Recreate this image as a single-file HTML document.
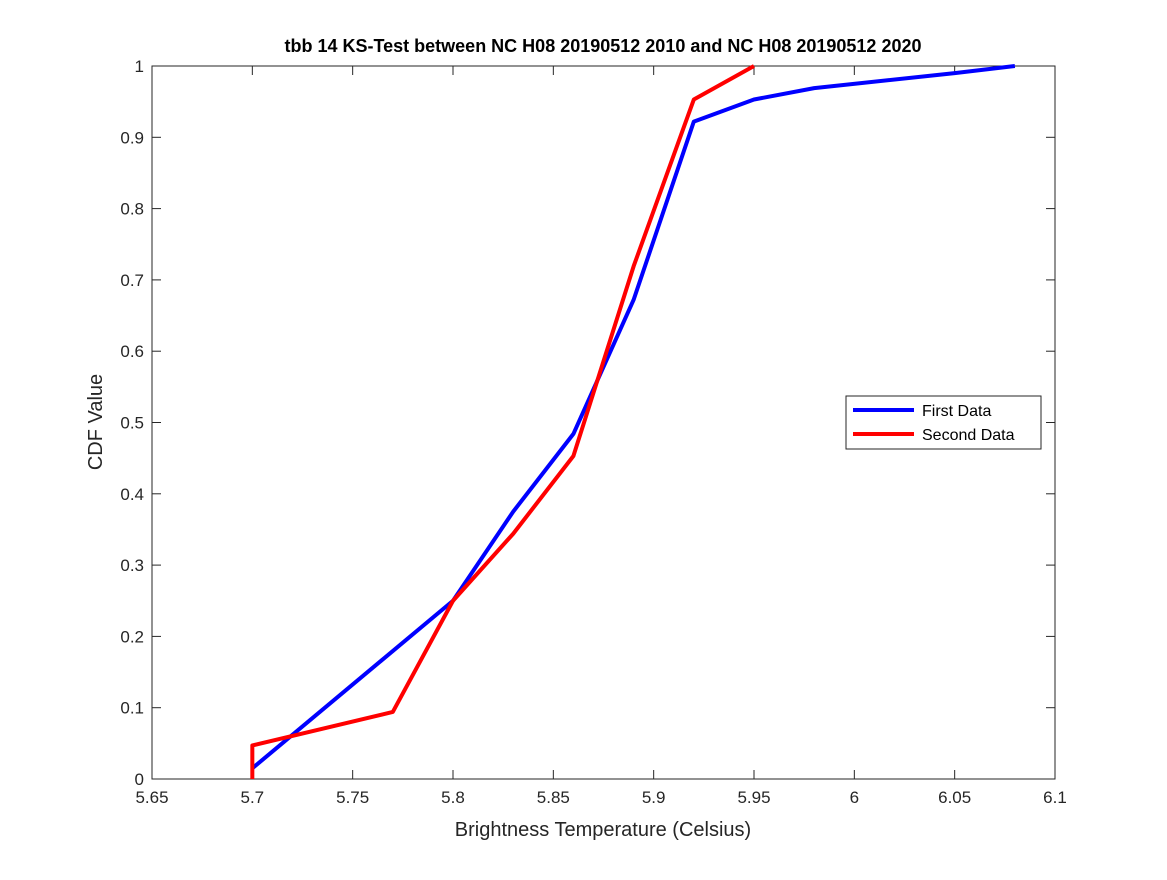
<!DOCTYPE html>
<html><head><meta charset="utf-8"><style>body{margin:0;background:#fff}svg text{font-family:"Liberation Sans",sans-serif}</style></head>
<body>
<svg id="c" width="1167" height="875"></svg>
<script>
const xTicks=[5.65,5.7,5.75,5.8,5.85,5.9,5.95,6,6.05,6.1];
const xTickLabels=["5.65","5.7","5.75","5.8","5.85","5.9","5.95","6","6.05","6.1"];
const yTicks=[0,0.1,0.2,0.3,0.4,0.5,0.6,0.7,0.8,0.9,1];
const yTickLabels=["0","0.1","0.2","0.3","0.4","0.5","0.6","0.7","0.8","0.9","1"];
const firstX=[5.7,5.8,5.83,5.86,5.89,5.92,5.95,5.98,6.05,6.08];
const firstY=[0.015,0.25,0.375,0.484,0.672,0.922,0.953,0.969,0.99,1];
const secondX=[5.7,5.7,5.77,5.8,5.83,5.86,5.89,5.92,5.95];
const secondY=[0,0.047,0.094,0.25,0.344,0.453,0.719,0.953,1];
const L=152,R=1055,T=66,B=779;
const sx=v=>L+(v-5.65)/(6.1-5.65)*(R-L);
const sy=v=>B-v*(B-T);
const svg=document.getElementById('c');
const NS='http://www.w3.org/2000/svg';
function mk(t,a,p){const e=document.createElementNS(NS,t);for(const k in a)e.setAttribute(k,a[k]);(p||svg).appendChild(e);return e;}
let e=mk('rect',{x:L,y:T,width:R-L,height:B-T,fill:'#fff',stroke:'#262626','stroke-width':1});


xTicks.forEach((v,i)=>{const x=sx(v);
mk('line',{x1:x,x2:x,y1:B,y2:B-9,stroke:'#262626'});mk('line',{x1:x,x2:x,y1:T,y2:T+9,stroke:'#262626'});
const t=mk('text',{x:x,y:B+24,'text-anchor':'middle','font-size':17,fill:'#262626'});t.textContent=xTickLabels[i];

});
yTicks.forEach((v,i)=>{const y=sy(v);
mk('line',{x1:L,x2:L+9,y1:y,y2:y,stroke:'#262626'});mk('line',{x1:R,x2:R-9,y1:y,y2:y,stroke:'#262626'});
const t=mk('text',{x:L-8,y:y+6,'text-anchor':'end','font-size':17,fill:'#262626'});t.textContent=yTickLabels[i];

});
function line(xs,ys,c,n){const p=mk('polyline',{points:xs.map((x,i)=>sx(x)+','+sy(ys[i])).join(' '),fill:'none',stroke:c,'stroke-width':4,'stroke-linejoin':'round'});

}
line(firstX,firstY,'#0000ff','first-data-line');
line(secondX,secondY,'#ff0000','second-data-line');
let t=mk('text',{x:603,y:52,'text-anchor':'middle','font-size':18,'font-weight':'bold',fill:'#000'});t.textContent='tbb 14 KS-Test between NC H08 20190512 2010 and NC H08 20190512 2020';


t=mk('text',{x:603,y:836,'text-anchor':'middle','font-size':20,fill:'#262626'});t.textContent='Brightness Temperature (Celsius)';


t=mk('text',{x:0,y:0,'text-anchor':'middle','font-size':20,fill:'#262626',transform:'translate(102,422) rotate(-90)'});t.textContent='CDF Value';


const g=mk('g',{});


mk('rect',{x:846,y:396,width:195,height:53,fill:'#fff',stroke:'#262626'},g);
mk('line',{x1:853,x2:914,y1:410,y2:410,stroke:'#0000ff','stroke-width':4},g);
mk('line',{x1:853,x2:914,y1:434,y2:434,stroke:'#ff0000','stroke-width':4},g);
t=mk('text',{x:922,y:416,'font-size':16,fill:'#000'},g);t.textContent='First Data';


t=mk('text',{x:922,y:440,'font-size':16,fill:'#000'},g);t.textContent='Second Data';


</script>
</body></html>
